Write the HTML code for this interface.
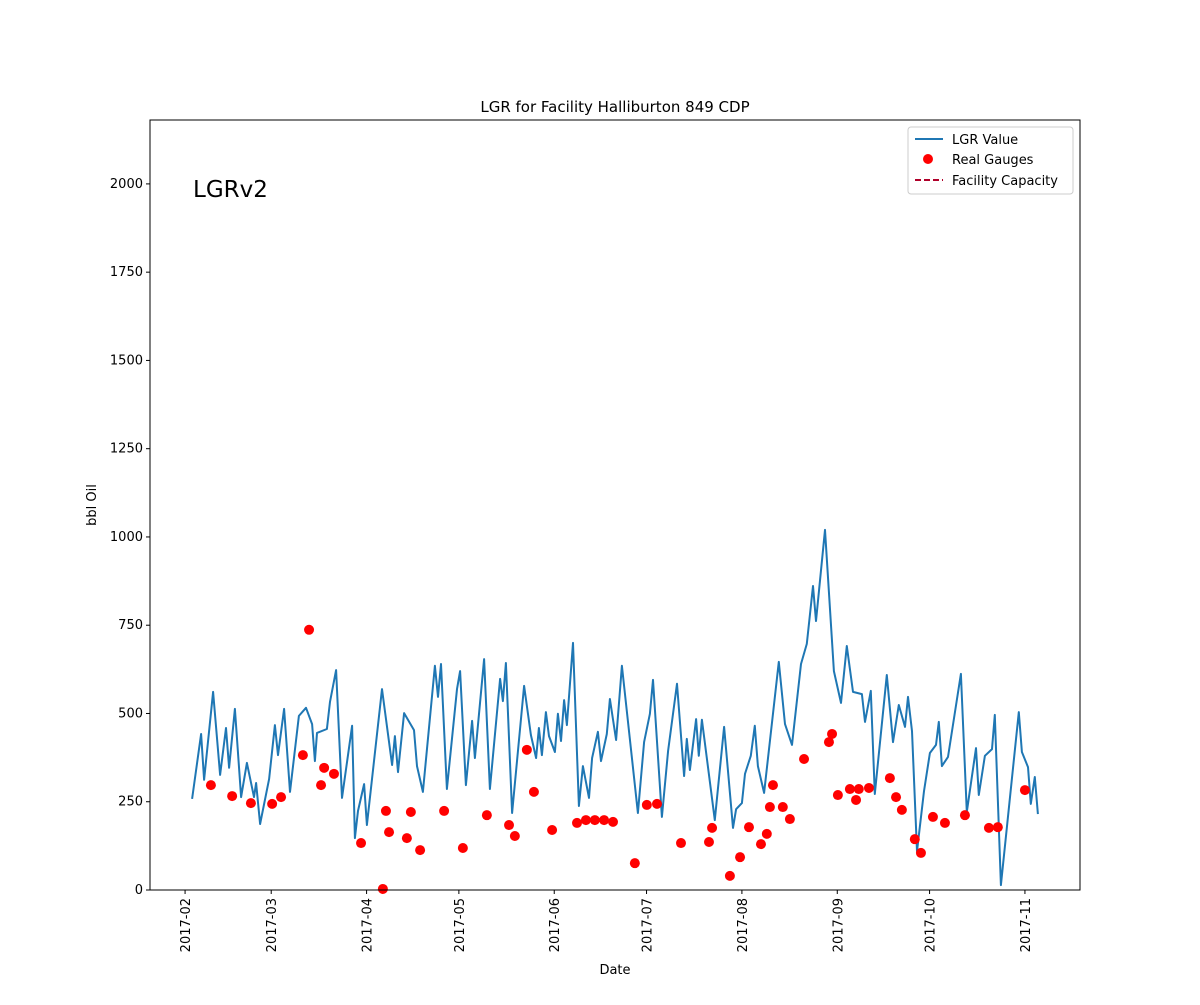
<!DOCTYPE html>
<html><head><meta charset="utf-8"><style>
body{margin:0;background:#fff;}
svg text{font-family:"DejaVu Sans","Liberation Sans",sans-serif;fill:#000;}
</style></head><body>
<svg id="chart" width="1200" height="1000" xmlns="http://www.w3.org/2000/svg"></svg>
<script>
const lineDays=[2.3,5.2,6.2,9.1,11.4,13.3,14.3,16.2,18.2,20.1,22.4,23.1,24.4,27.3,29.2,30.2,32.2,34.1,37.0,39.3,41.3,42.2,42.9,46.1,47.1,49.1,51.0,54.3,55.2,56.2,58.2,59.1,64.0,67.3,68.2,69.2,71.2,74.4,75.4,77.3,81.2,82.2,83.2,85.1,88.4,89.4,91.3,93.3,94.2,97.2,99.1,102.4,103.3,104.3,106.3,110.2,112.4,114.1,115.0,116.0,117.3,118.3,120.2,121.2,122.2,123.2,124.1,126.1,128.0,129.3,131.3,132.3,134.2,135.2,137.1,138.1,140.1,142.0,147.2,149.2,151.1,152.1,155.0,157.0,159.9,162.2,163.1,164.1,166.1,167.0,168.0,172.2,175.2,178.1,179.1,181.0,182.0,183.9,185.2,186.2,188.2,193.0,195.0,197.3,200.2,202.1,204.1,205.1,208.0,210.9,213.2,215.1,217.1,220.0,221.0,222.9,224.2,228.1,230.1,232.0,234.0,235.0,236.3,237.9,240.2,242.1,244.1,245.0,246.0,248.0,252.2,254.1,257.1,258.0,260.0,262.3,263.2,265.2,271.0,272.0,274.0,274.9,276.2,277.2];
const lineVals=[258,442,312,561,326,459,346,513,263,360,263,303,187,314,467,382,513,278,493,516,470,365,445,456,533,623,261,465,147,224,300,184,569,354,436,334,501,453,351,278,635,547,640,286,569,620,297,479,374,654,286,598,535,643,218,578,439,374,459,382,504,436,391,499,422,538,467,700,238,351,261,374,448,365,442,541,425,635,218,419,499,595,207,394,584,323,428,340,484,380,482,198,462,176,229,246,329,380,465,351,275,646,470,411,640,697,861,762,1020,620,530,691,561,555,476,564,272,609,419,524,462,547,450,110,280,388,411,476,351,377,612,221,402,269,380,399,496,14,504,391,348,244,320,215];
const gaugeDays=[8.4,15.3,21.4,28.3,31.2,38.3,40.3,44.2,45.2,48.4,57.2,64.3,65.3,66.3,72.1,73.4,76.4,84.2,90.3,98.1,105.3,107.2,111.1,113.4,119.3,127.4,130.3,133.2,136.2,139.1,146.2,150.1,153.4,161.2,170.3,171.3,177.1,180.4,183.3,187.2,189.1,190.1,191.1,194.3,196.6,201.2,209.3,210.3,212.2,216.1,218.1,219.0,222.3,229.1,231.1,233.0,237.2,239.2,243.1,247.0,253.5,261.3,264.2,273.0];
const gaugeVals=[297,266,246,244,263,382,737,297,346,329,133,3,224,164,147,221,113,224,119,212,184,153,397,278,170,190,198,198,198,193,76,241,244,133,136,176,40,93,178,130,159,235,297,235,201,371,419,442,269,286,255,286,289,317,263,227,144,105,207,190,212,176,178,283];
const yTicks=[0,250,500,750,1000,1250,1500,1750,2000];
const xTickDays=[0,28,59,89,120,150,181,212,242,273];
const xTickLabels=["2017-02","2017-03","2017-04","2017-05","2017-06","2017-07","2017-08","2017-09","2017-10","2017-11"];

const L=150,R=1080,T=120,B=890;
const dMin=-11.4,dMax=290.9,yMin=0,yMax=2181;
const xs=d=>L+(d-dMin)/(dMax-dMin)*(R-L);
const ys=v=>B-(v-yMin)/(yMax-yMin)*(B-T);
const svg=document.getElementById('chart');
const NS='http://www.w3.org/2000/svg';
function mk(tag,attrs,parent){const e=document.createElementNS(NS,tag);for(const k in attrs)e.setAttribute(k,attrs[k]);(parent||svg).appendChild(e);return e;}

// line
let dstr=lineDays.map((d,i)=>(i?'L':'M')+xs(d).toFixed(1)+','+ys(lineVals[i]).toFixed(1)).join('');
const ln=mk('path',{d:dstr,fill:'none',stroke:'#1f77b4','stroke-width':2,'stroke-linejoin':'round'});


// dots
gaugeDays.forEach((d,i)=>{
  const c=mk('circle',{cx:xs(d),cy:ys(gaugeVals[i]),r:5,fill:'#ff0000'});
  
  
});
// frame
const fr=mk('rect',{x:L,y:T,width:R-L,height:B-T,fill:'none',stroke:'#000','stroke-width':1});


// y ticks
yTicks.forEach(v=>{
  const y=ys(v);
  const t=mk('line',{x1:L-4,x2:L,y1:y,y2:y,stroke:'#000'});
  
  
  const tx=mk('text',{x:L-7,y:y+4,'text-anchor':'end','font-size':13});
  tx.textContent=v;
  
  
});
// x ticks
xTickDays.forEach((d,i)=>{
  const x=xs(d);
  const t=mk('line',{x1:x,x2:x,y1:B,y2:B+4,stroke:'#000'});
  
  
  const tx=mk('text',{x:0,y:0,'text-anchor':'end','font-size':13,transform:`translate(${x+5},${B+8}) rotate(-90)`});
  tx.textContent=xTickLabels[i];
  
  
});
</script>
<svg width="1200" height="1000" style="position:absolute;left:0;top:0" xmlns="http://www.w3.org/2000/svg">
<text x="615" y="112" text-anchor="middle" font-size="15">LGR for Facility Halliburton 849 CDP</text>
<text x="193" y="197" font-size="23">LGRv2</text>
<text x="615" y="974" text-anchor="middle" font-size="13">Date</text>
<text transform="translate(96,505) rotate(-90)" text-anchor="middle" font-size="13">bbl Oil</text>
<g>
<rect x="908" y="127" width="165" height="67" rx="3" fill="#fff" stroke="#ccc"/>
<line x1="915" y1="139" x2="943" y2="139" stroke="#1f77b4" stroke-width="2"/>
<text x="952" y="144" font-size="13">LGR Value</text>
<circle cx="928" cy="159" r="5" fill="#ff0000"/>
<text x="952" y="164" font-size="13">Real Gauges</text>
<line x1="915" y1="180" x2="943" y2="180" stroke="#b0002a" stroke-width="2" stroke-dasharray="6,3"/>
<text x="952" y="185" font-size="13">Facility Capacity</text>
</g>
</svg>
</body></html>
